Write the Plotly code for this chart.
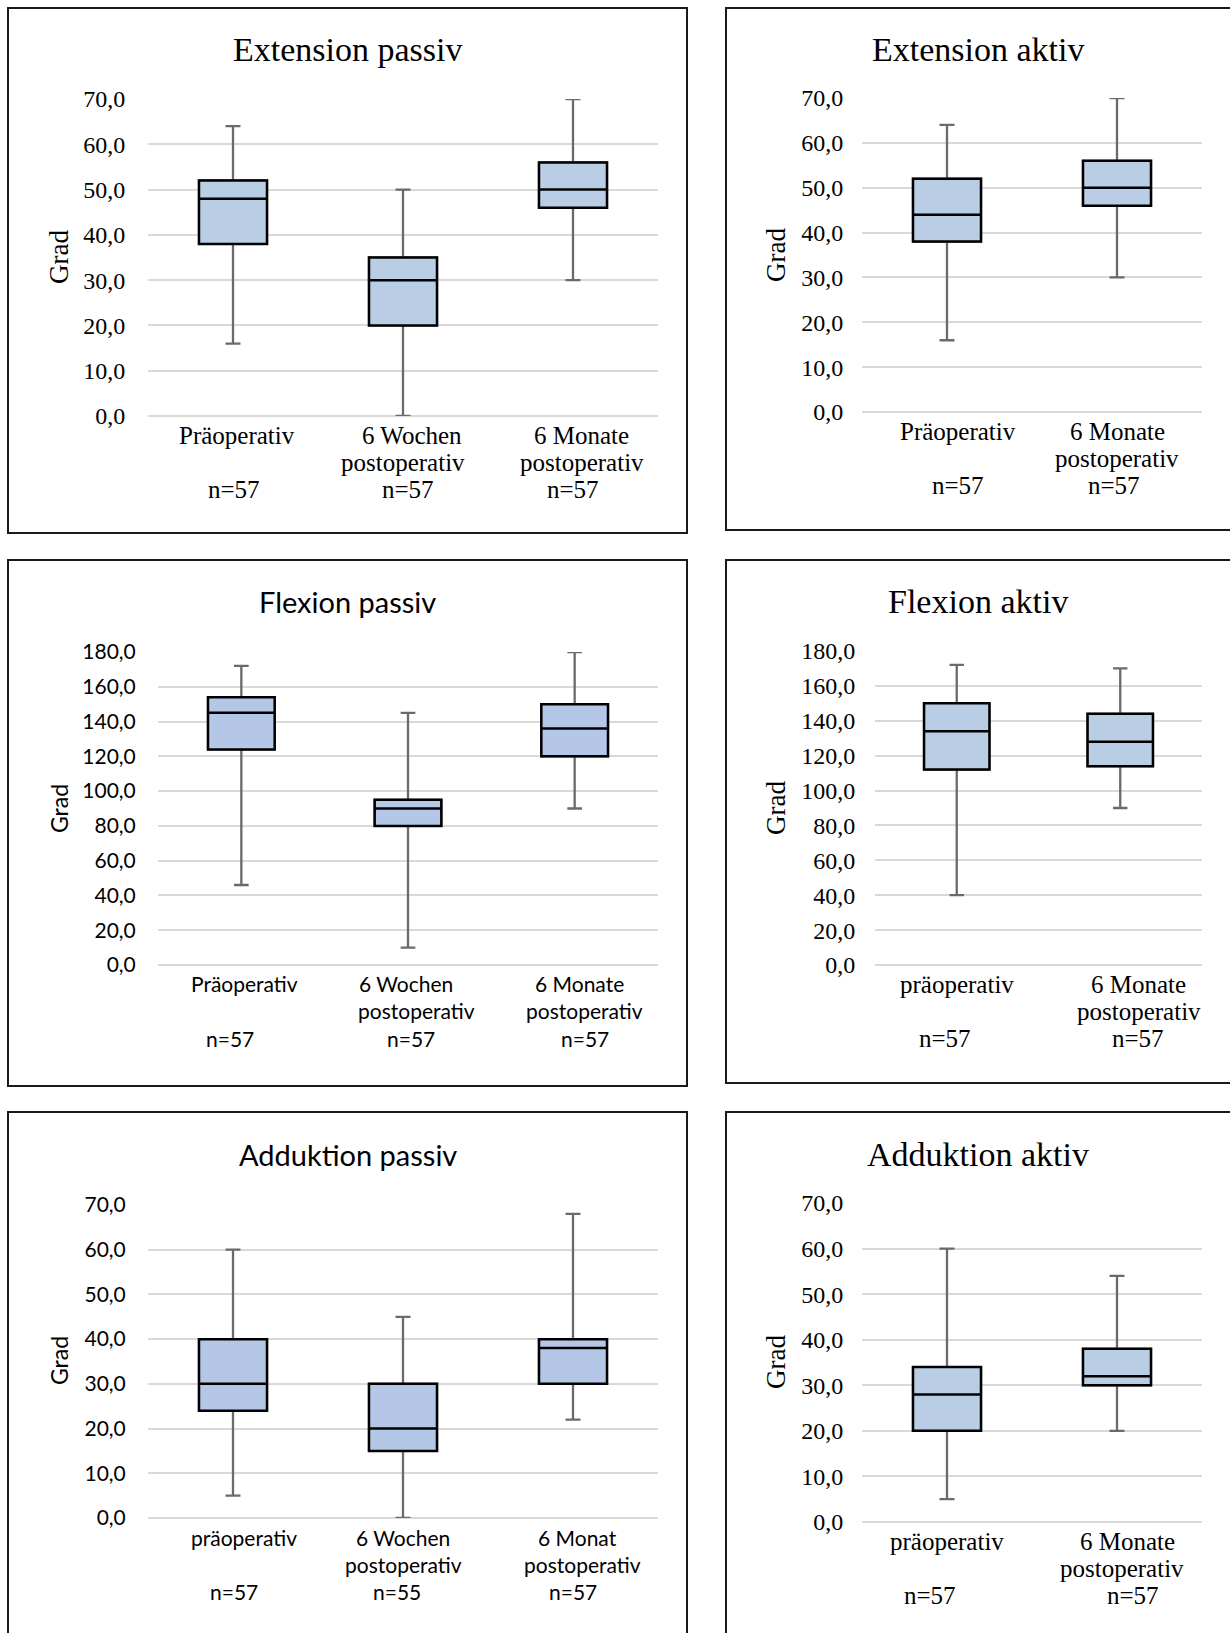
import plotly.graph_objects as go

W, H = 1230, 1633

# ---------------- data ----------------
ext_passiv_cats = ["Präoperativ", "6 Wochen postoperativ", "6 Monate postoperativ"]
ext_passiv_labels = [["Präoperativ", "", "n=57"], ["6 Wochen", "postoperativ", "n=57"], ["6 Monate", "postoperativ", "n=57"]]
ext_passiv_min = [16, 0, 30]
ext_passiv_q1 = [38, 20, 46]
ext_passiv_med = [48, 30, 50]
ext_passiv_q3 = [52, 35, 56]
ext_passiv_max = [64, 50, 70]

ext_aktiv_cats = ["Präoperativ", "6 Monate postoperativ"]
ext_aktiv_labels = [["Präoperativ", "", "n=57"], ["6 Monate", "postoperativ", "n=57"]]
ext_aktiv_min = [16, 30]
ext_aktiv_q1 = [38, 46]
ext_aktiv_med = [44, 50]
ext_aktiv_q3 = [52, 56]
ext_aktiv_max = [64, 70]

flex_passiv_cats = ["Präoperativ", "6 Wochen postoperativ", "6 Monate postoperativ"]
flex_passiv_labels = [["Präoperativ", "", "n=57"], ["6 Wochen", "postoperativ", "n=57"], ["6 Monate", "postoperativ", "n=57"]]
flex_passiv_min = [46, 10, 90]
flex_passiv_q1 = [124, 80, 120]
flex_passiv_med = [145, 90, 136]
flex_passiv_q3 = [154, 95, 150]
flex_passiv_max = [172, 145, 180]

flex_aktiv_cats = ["präoperativ", "6 Monate postoperativ"]
flex_aktiv_labels = [["präoperativ", "", "n=57"], ["6 Monate", "postoperativ", "n=57"]]
flex_aktiv_min = [40, 90]
flex_aktiv_q1 = [112, 114]
flex_aktiv_med = [134, 128]
flex_aktiv_q3 = [150, 144]
flex_aktiv_max = [172, 170]

add_passiv_cats = ["präoperativ", "6 Wochen postoperativ", "6 Monat postoperativ"]
add_passiv_labels = [["präoperativ", "", "n=57"], ["6 Wochen", "postoperativ", "n=55"], ["6 Monat", "postoperativ", "n=57"]]
add_passiv_min = [5, 0, 22]
add_passiv_q1 = [24, 15, 30]
add_passiv_med = [30, 20, 38]
add_passiv_q3 = [40, 30, 40]
add_passiv_max = [60, 45, 68]

add_aktiv_cats = ["präoperativ", "6 Monate postoperativ"]
add_aktiv_labels = [["präoperativ", "", "n=57"], ["6 Monate", "postoperativ", "n=57"]]
add_aktiv_min = [5, 20]
add_aktiv_q1 = [20, 30]
add_aktiv_med = [28, 32]
add_aktiv_q3 = [34, 38]
add_aktiv_max = [60, 54]

y_title = "Grad"
ticks_70 = [0, 10, 20, 30, 40, 50, 60, 70]
ticks_180 = [0, 20, 40, 60, 80, 100, 120, 140, 160, 180]

# ---------------- styles ----------------
SERIF = "Liberation Serif"
SANS = "Lato"
serif_sizes = dict(title=34, tick=24, lab=25, grad=27)
sans_sizes = dict(title=29, tick=21, lab=21, grad=23)

panels = [
    dict(title="Extension passiv", cats=ext_passiv_cats, labels=ext_passiv_labels,
         lo=ext_passiv_min, q1=ext_passiv_q1, med=ext_passiv_med, q3=ext_passiv_q3, hi=ext_passiv_max,
         ticks=ticks_70, font=SERIF, sz=serif_sizes, fill="#b9cde5",
         dx=(148, 658), dy=(99, 416), frame=(8, 687, 8, 533), tpos=(348, 49), gpos=(59, 257), gap=23,
         off=[[4, 0, 1], [9, 0, 5], [8, 9, 0]]),
    dict(title="Extension aktiv", cats=ext_aktiv_cats, labels=ext_aktiv_labels,
         lo=ext_aktiv_min, q1=ext_aktiv_q1, med=ext_aktiv_med, q3=ext_aktiv_q3, hi=ext_aktiv_max,
         ticks=ticks_70, font=SERIF, sz=serif_sizes, fill="#b9cde5",
         dx=(862, 1202), dy=(98, 412), frame=(726, 1245, 8, 530), tpos=(978, 49), gpos=(776, 255), gap=19,
         off=[[11, 0, 11], [0, 0, -3]]),
    dict(title="Flexion passiv", cats=flex_passiv_cats, labels=flex_passiv_labels,
         lo=flex_passiv_min, q1=flex_passiv_q1, med=flex_passiv_med, q3=flex_passiv_q3, hi=flex_passiv_max,
         ticks=ticks_180, font=SANS, sz=sans_sizes, fill="#b4c7e7",
         dx=(158, 658), dy=(652, 965), frame=(8, 687, 560, 1086), tpos=(348, 601), gpos=(59, 809), gap=23,
         off=[[3, 0, -11], [-2, 8, 3], [5, 10, 10]]),
    dict(title="Flexion aktiv", cats=flex_aktiv_cats, labels=flex_aktiv_labels,
         lo=flex_aktiv_min, q1=flex_aktiv_q1, med=flex_aktiv_med, q3=flex_aktiv_q3, hi=flex_aktiv_max,
         ticks=ticks_180, font=SERIF, sz=serif_sizes, fill="#b9cde5",
         dx=(875, 1202), dy=(651, 965), frame=(726, 1245, 560, 1083), tpos=(978, 601), gpos=(776, 808), gap=20,
         off=[[0, 0, -12], [18, 19, 18]]),
    dict(title="Adduktion passiv", cats=add_passiv_cats, labels=add_passiv_labels,
         lo=add_passiv_min, q1=add_passiv_q1, med=add_passiv_med, q3=add_passiv_q3, hi=add_passiv_max,
         ticks=ticks_70, font=SANS, sz=sans_sizes, fill="#b4c7e7",
         dx=(148, 658), dy=(1205, 1518), frame=(8, 687, 1112, 1650), tpos=(348, 1154), gpos=(59, 1361), gap=23,
         off=[[11, 0, 1], [0, 0, -6], [4, 9, 0]]),
    dict(title="Adduktion aktiv", cats=add_aktiv_cats, labels=add_aktiv_labels,
         lo=add_aktiv_min, q1=add_aktiv_q1, med=add_aktiv_med, q3=add_aktiv_q3, hi=add_aktiv_max,
         ticks=ticks_70, font=SERIF, sz=serif_sizes, fill="#b9cde5",
         dx=(862, 1202), dy=(1203, 1522), frame=(726, 1245, 1112, 1650), tpos=(978, 1154), gpos=(776, 1362), gap=19,
         off=[[0, 0, -17], [10, 5, 16]]),
]

WHISKER = "#6a6a6a"
GRID = "#d9d9d9"
LINE_GAP = 27
FIRST_LINE = 19

fig = go.Figure()
annotations = []
shapes = []
layout = {}

for i, p in enumerate(panels, start=1):
    xa = "x" if i == 1 else f"x{i}"
    ya = "y" if i == 1 else f"y{i}"
    # whiskers (grey)
    fig.add_trace(go.Box(
        x=p["cats"], q1=p["q1"], median=p["med"], q3=p["q3"],
        lowerfence=p["lo"], upperfence=p["hi"],
        xaxis=xa, yaxis=ya, width=0.4, whiskerwidth=0.22,
        line=dict(color=WHISKER, width=2.3), fillcolor=p["fill"],
        boxpoints=False, showlegend=False, hoverinfo="skip"))
    # box body (black outline)
    fig.add_trace(go.Box(
        x=p["cats"], q1=p["q1"], median=p["med"], q3=p["q3"],
        lowerfence=p["q1"], upperfence=p["q3"],
        xaxis=xa, yaxis=ya, width=0.4, whiskerwidth=0.0,
        line=dict(color="black", width=2.5), fillcolor=p["fill"],
        boxpoints=False, showlegend=False, hoverinfo="skip"))

    ymax = p["ticks"][-1]
    ncat = len(p["cats"])
    layout[f"xaxis{'' if i == 1 else i}"] = dict(
        domain=[p["dx"][0] / W, p["dx"][1] / W], anchor=ya,
        type="category", categoryorder="array", categoryarray=p["cats"],
        range=[-0.5, ncat - 0.5], autorange=False, automargin=False,
        showticklabels=False, showgrid=False, zeroline=False, showline=False, ticks="")
    layout[f"yaxis{'' if i == 1 else i}"] = dict(
        domain=[1 - p["dy"][1] / H, 1 - p["dy"][0] / H], anchor=xa,
        range=[0, ymax], autorange=False, automargin=False,
        tickvals=p["ticks"], tickformat=".1f",
        showgrid=True, gridcolor=GRID, gridwidth=2,
        zeroline=True, zerolinecolor=GRID, zerolinewidth=2, showline=False,
        ticks="outside", ticklen=p["gap"] - 6, tickcolor="rgba(0,0,0,0)",
        tickfont=dict(family=p["font"], size=p["sz"]["tick"], color="black"))

    # category labels (multi-line)
    for c, (cat, lines) in enumerate(zip(p["cats"], p["labels"])):
        for k, txt in enumerate(lines):
            if not txt:
                continue
            annotations.append(dict(
                text=txt, xref=xa, yref=f"{ya} domain", x=cat, y=0,
                xanchor="center", yanchor="middle", showarrow=False,
                xshift=p["off"][c][k], yshift=-(FIRST_LINE + LINE_GAP * k),
                font=dict(family=p["font"], size=p["sz"]["lab"], color="black")))

    # title
    annotations.append(dict(
        text=p["title"], xref="paper", yref="paper",
        x=p["tpos"][0] / W, y=1 - p["tpos"][1] / H, xanchor="center", yanchor="middle",
        showarrow=False, font=dict(family=p["font"], size=p["sz"]["title"], color="black")))
    # y-axis title
    annotations.append(dict(
        text=y_title, xref="paper", yref="paper", textangle=-90,
        x=p["gpos"][0] / W, y=1 - p["gpos"][1] / H, xanchor="center", yanchor="middle",
        showarrow=False, font=dict(family=p["font"], size=p["sz"]["grad"], color="black")))

    # panel frame
    fx0, fx1, fy0, fy1 = p["frame"]
    shapes.append(dict(type="rect", xref="paper", yref="paper",
                       x0=fx0 / W, x1=fx1 / W, y0=1 - fy1 / H, y1=1 - fy0 / H,
                       line=dict(color="#1a1a1a", width=2), fillcolor="rgba(0,0,0,0)", layer="below"))

fig.update_layout(
    template="none",
    width=W, height=H, autosize=False,
    margin=dict(l=0, r=0, t=0, b=0, pad=0, autoexpand=False),
    paper_bgcolor="white", plot_bgcolor="white",
    boxmode="overlay", separators=", ",
    annotations=annotations, shapes=shapes, showlegend=False,
    **layout)

fig.write_html(
    "out.html",
    config=dict(displayModeBar=False),
    post_script="document.body.style.margin='0';document.body.style.padding='0';"
                "document.documentElement.style.overflow='hidden';",
)
